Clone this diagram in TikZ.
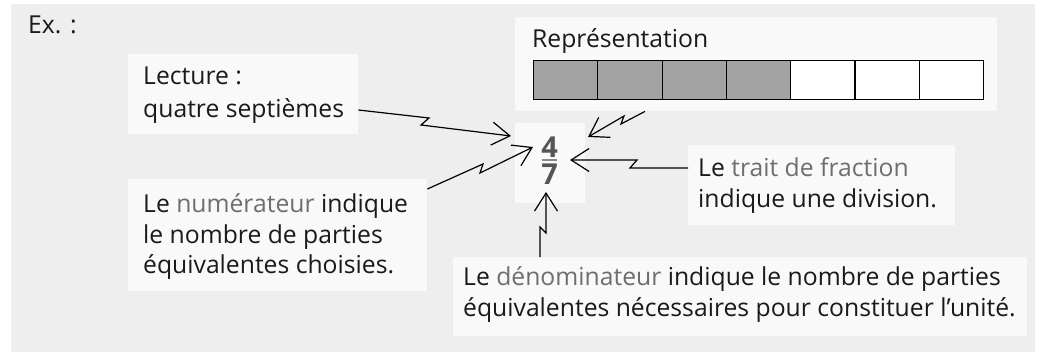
\documentclass[tikz,border=0pt]{standalone}
\usepackage{fontspec}
\setmainfont{Open Sans}
\usetikzlibrary{arrows.meta}
\definecolor{bgc}{HTML}{EEEEEE}
\definecolor{boxc}{HTML}{F9F9F9}
\definecolor{txt}{HTML}{1A1A1A}
\definecolor{hl}{HTML}{6E6E6E}
\definecolor{cellg}{HTML}{A3A3A3}
\definecolor{fracc}{HTML}{555555}
\definecolor{barc}{HTML}{8A8A8A}
\begin{document}
\begin{tikzpicture}[x=1bp,y=-1bp,
  box/.style={fill=boxc, draw=none, inner sep=0, anchor=north west},
  txtline/.style={anchor=base west, inner sep=0, font=\fontsize{24.8}{29}\selectfont, text=txt},
  arr/.style={line width=1.2bp, -{Straight Barb[length=18bp,width=23bp]}, line join=miter},
  cell/.style={draw=black, line width=1.2bp, minimum width=64.29bp, minimum height=39bp, inner sep=0, anchor=north west},
  digit/.style={inner sep=0, anchor=base, text height=20bp, text depth=0bp, font=\fontsize{29}{29}\selectfont\bfseries, text=fracc}]
\useasboundingbox (0,0) rectangle (1049,352);
\fill[white] (0,0) rectangle (1049,352);
\fill[bgc] (11,4) rectangle (1035,352);
% boxes
\node[box, minimum width=230bp, minimum height=80bp] (blec) at (128,54) {};
\node[box, minimum width=299bp, minimum height=112bp] (bnum) at (128,179) {};
\node[box, minimum width=482bp, minimum height=94bp] (brep) at (515,17) {};
\node[box, minimum width=70bp, minimum height=80bp] (bfrac) at (515,123) {};
\node[box, minimum width=267bp, minimum height=80bp] (btr) at (688,145) {};
\node[box, minimum width=574bp, minimum height=79bp] (bden) at (453,257) {};
% texts
\node[txtline] (ex) at (28,33) {Ex. :};
\node[txtline] (lec1) at (143,84) {Lecture :};
\node[txtline] (lec2) at (143,117) {quatre septièmes};
\node[txtline] (num1) at (143,212) {Le \textcolor{hl}{numérateur} indique};
\node[txtline] (num2) at (143,243) {le nombre de parties};
\node[txtline] (num3) at (143,273) {équivalentes choisies.};
\node[txtline] (rep1) at (532,47) {Représentation};
\node[txtline] (tr1) at (698,176) {Le \textcolor{hl}{trait de fraction}};
\node[txtline] (tr2) at (698,207) {indique une division.};
\node[txtline] (den1) at (463,285) {Le \textcolor{hl}{dénominateur} indique le nombre de parties};
\node[txtline] (den2) at (463,316) {équivalentes nécessaires pour constituer l’unité.};
% bar of cells
\foreach \i in {0,...,3} \node[cell, fill=cellg] (cell\i) at (533+\i*64.29,60) {};
\foreach \i in {4,...,6} \node[cell, fill=white] (cell\i) at (533+\i*64.29,60) {};
% fraction
\node[digit] (fnum) at (549.5,157) {4};
\node[digit] (fden) at (549.5,184) {7};
\draw[barc, line width=1.2bp] (542,160) -- (557,160);
% arrows
\coordinate (t1) at (511,136);
\coordinate (t2) at (533,147);
\coordinate (t3) at (588,137);
\coordinate (t4) at (570,160);
\coordinate (t5) at (546,192);
\draw[arr] (blec.east |- 0,110) -- (429,118) -- (421,125) -- (t1);
\draw[arr] (bnum.east |- 0,189) -- (483,164) -- (480,173) -- (t2);
\draw[arr] (645,0 |- brep.south) -- (621,124) -- (624,116) -- (t3);
\draw[arr] (btr.west |- 0,168) -- (630,168) -- (637,160) -- (t4);
\draw[arr] (540,0 |- bden.north) -- (540,227) -- (546,233) -- (t5);
\end{tikzpicture}
\end{document}
